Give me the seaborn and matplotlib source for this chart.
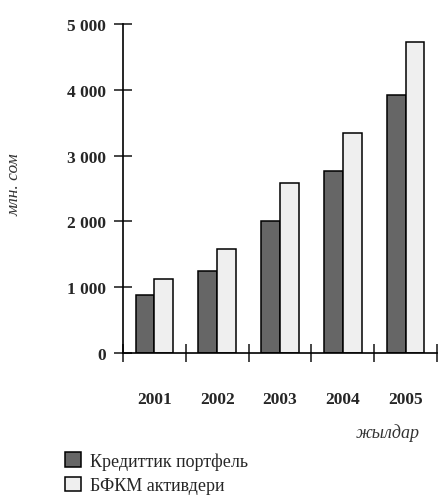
import pandas as pd
import seaborn as sns
import matplotlib.pyplot as plt
from matplotlib.ticker import FixedLocator, FuncFormatter

# data (млн. сом)
years = ["2001", "2002", "2003", "2004", "2005"]
credit_portfolio = [880, 1250, 2000, 2770, 3920]
bfkm_assets = [1120, 1580, 2580, 3340, 4730]
series_names = ["Кредиттик портфель", "БФКМ активдери"]
colors = ["#666666", "#efefef"]
y_ticks = [0, 1000, 2000, 3000, 4000, 5000]

df = pd.DataFrame({
    "year": years * 2,
    "value": credit_portfolio + bfkm_assets,
    "series": [series_names[0]] * len(years) + [series_names[1]] * len(years),
})

sns.set_style("white")
plt.rcParams["font.family"] = ["Liberation Serif", "DejaVu Serif"]

fig = plt.figure(figsize=(4.38, 5.02), dpi=100)
ax = fig.add_axes([123 / 438, 1 - 354 / 502, 314 / 438, 329 / 502])

sns.barplot(data=df, x="year", y="value", hue="series", palette=colors,
            width=0.6, gap=0, edgecolor="black", linewidth=1.1,
            saturation=1, ax=ax)

ax.set_xlim(-0.5, 4.5)
ax.set_ylim(0, 5000)
sns.despine(ax=ax)
for side in ["left", "bottom"]:
    ax.spines[side].set_linewidth(1.2)
    ax.spines[side].set_color("black")

# y axis: ticks crossing the spine, thousands with a space
ax.yaxis.set_major_locator(FixedLocator(y_ticks))
ax.yaxis.set_major_formatter(FuncFormatter(lambda v, p: f"{int(v):,}".replace(",", " ")))
ax.tick_params(axis="y", direction="inout", length=13, width=1.2, pad=6,
               labelsize=12.5, left=True)

# x axis: labels at group centres, crossing ticks between groups
ax.tick_params(axis="x", which="major", length=0, pad=27, labelsize=12.5)
ax.set_xticks(range(len(years)))
ax.xaxis.set_minor_locator(FixedLocator([i - 0.5 for i in range(len(years) + 1)]))
ax.tick_params(axis="x", which="minor", direction="inout", length=13,
               width=1.2, bottom=True)
for lab in ax.get_xticklabels() + ax.get_yticklabels():
    lab.set_fontweight("bold")

ax.set_xlabel("")
ax.set_ylabel("")
fig.text(15 / 438, 1 - 185 / 502, "млн. сом", rotation=90, style="italic",
         fontsize=12.5, ha="center", va="center", color="#333333")
fig.text(420 / 438, 1 - 433 / 502, "жылдар", style="italic",
         fontsize=13, ha="right", va="center", color="#333333")

handles, labels = ax.get_legend_handles_labels()
ax.get_legend().remove()
fig.legend(handles, labels, loc="upper left",
           bbox_to_anchor=(58 / 438, 1 - 446 / 502), frameon=False,
           fontsize=13, handlelength=0.85, handleheight=0.85,
           handletextpad=0.5, labelspacing=0.4, borderaxespad=0)

fig.savefig("out.png", dpi=100)
